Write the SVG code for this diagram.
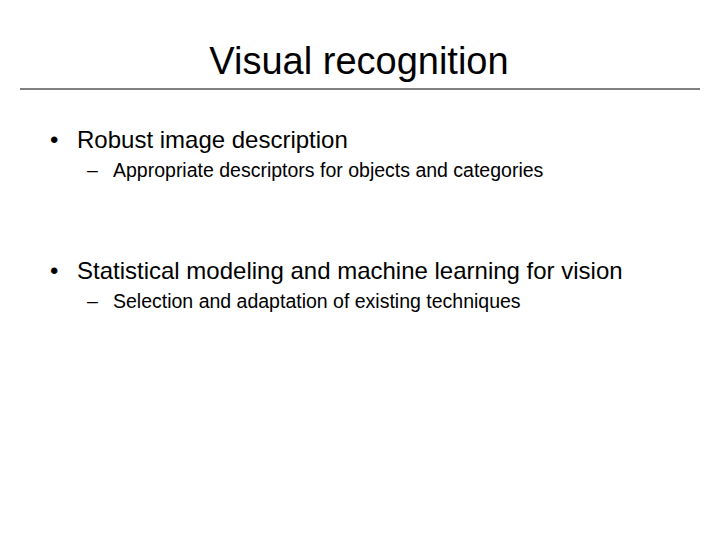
<svg xmlns="http://www.w3.org/2000/svg" width="720" height="540" viewBox="0 0 720 540">
<style>text{font-family:"Liberation Sans",Arial,sans-serif;fill:#000}.b{font-size:24px}.s{font-size:19.5px}</style>
<rect width="720" height="540" fill="#fff"/>
<text x="359" y="74" font-size="38" text-anchor="middle">Visual recognition</text>
<line x1="20" y1="89" x2="700" y2="89" stroke="#000" stroke-width="1"/>
<text class="b" x="50" y="148">•</text>
<text class="b" x="77" y="148">Robust image description</text>
<text class="s" x="87" y="177">–</text>
<text class="s" x="113" y="177">Appropriate descriptors for objects and categories</text>
<text class="b" x="50" y="279">•</text>
<text class="b" x="77" y="279">Statistical modeling and machine learning for vision</text>
<text class="s" x="87" y="308">–</text>
<text class="s" x="113" y="308">Selection and adaptation of existing techniques</text>
</svg>
